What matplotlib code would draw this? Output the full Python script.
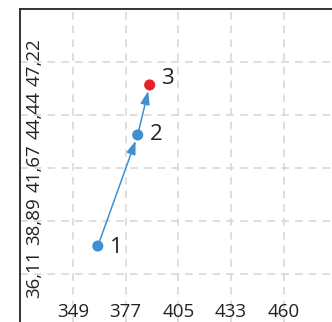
import matplotlib
matplotlib.use("Agg")
import matplotlib.pyplot as plt

# path points (x, y) and their labels
xs = [362.4, 383.4, 389.7]
ys = [37.58, 43.40, 46.02]
point_labels = ["1", "2", "3"]
point_colors = ["#3f8fd2", "#3f8fd2", "#e8202a"]

x_ticks = [349.2, 376.98, 404.76, 432.53, 460.31]
x_tick_labels = ["349", "377", "405", "433", "460"]
y_ticks = [36.11, 38.89, 41.67, 44.44, 47.22]
y_tick_labels = ["36,11", "38,89", "41,67", "44,44", "47,22"]

BLUE = "#3f8fd2"

plt.rcParams["font.family"] = ["Open Sans", "DejaVu Sans"]

fig = plt.figure(figsize=(3.32, 3.22), dpi=100)
ax = fig.add_axes([20 / 332, 0, 312 / 332, 313 / 322])

ax.set_xlim(321.42, 485.7)
ax.set_ylim(33.6, 50.0)

ax.set_xticks(x_ticks)
ax.set_xticklabels(x_tick_labels)
ax.set_yticks(y_ticks)
ax.set_yticklabels(y_tick_labels, rotation=90, va="center")
ax.tick_params(axis="x", length=0, pad=-14, labelsize=13.5, colors="#222222")
ax.tick_params(axis="y", length=0, pad=-17, labelsize=13.5, colors="#222222")

ax.grid(True, color="#d4d4d4", linestyle=(0, (5, 4)), linewidth=1.1)
ax.set_axisbelow(True)

for side in ["right", "bottom"]:
    ax.spines[side].set_visible(False)
for side in ["left", "top"]:
    ax.spines[side].set_color("#333333")
    ax.spines[side].set_linewidth(1.4)

# arrows between consecutive points
for i in range(len(xs) - 1):
    ax.annotate(
        "",
        xy=(xs[i + 1], ys[i + 1]),
        xytext=(xs[i], ys[i]),
        arrowprops=dict(
            arrowstyle="-|>,head_length=0.8,head_width=0.28",
            color=BLUE,
            lw=1.1,
            shrinkA=0,
            shrinkB=4.5,
        ),
        zorder=2,
    )

ax.scatter(xs, ys, s=64, c=point_colors, zorder=3, linewidths=0)

for x, y, lab, dy in zip(xs, ys, point_labels, [-1, 0, 5]):
    ax.annotate(
        lab,
        (x, y),
        xytext=(8.5, dy),
        textcoords="offset points",
        ha="left",
        va="center",
        fontsize=16,
        color="#222222",
    )

fig.savefig("out.png", dpi=100)
